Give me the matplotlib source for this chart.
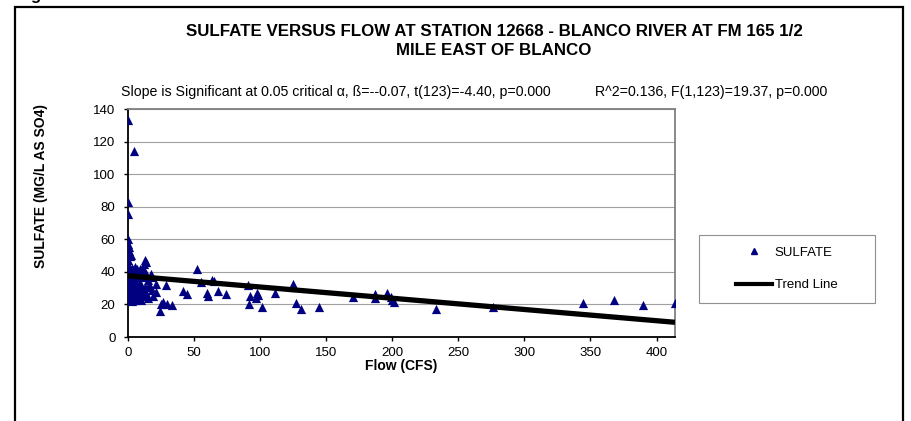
import numpy as np
import matplotlib
matplotlib.use('Agg')
from matplotlib import pyplot as plt
from matplotlib.patches import Rectangle
from matplotlib.lines import Line2D

plt.rcParams['font.family'] = ['Liberation Sans', 'DejaVu Sans']

# flow (cfs) and sulfate (mg/l)
flow = [
    # column near zero flow
    0, 4.5, 0, 0, 0, 0.3, 0.5, 1, 0.2, 1.5, 0.3, 2.5,
    # dense cluster
    0, 0, 0, 0, 0, 0, 0, 0, 0, 0,
    1, 1, 1, 1, 1, 1,
    2, 2, 2, 2, 2,
    3, 3, 3, 3, 3,
    4, 4, 4,
    5, 5, 5, 5, 5,
    6, 6, 6,
    7, 7, 7, 7,
    8, 8, 8,
    9, 9, 9,
    10, 10, 10,
    11, 11,
    12, 12,
    13, 13,
    14, 14,
    15, 15,
    16,
    18, 18,
    # rest
    12.6, 13.4, 11.8, 17.7,
    21, 21.5, 19, 16.4,
    28.5, 25.3, 26.8, 24, 29.8, 33.6,
    41.9, 44.9,
    52, 55, 59.6, 60.2, 63.9, 65, 68, 74.2,
    91.2, 92, 91.9, 97.5, 97, 98.3, 101.3, 111, 125, 126, 127.3, 131,
    144.2, 170, 187, 187, 196, 199, 199.7, 201.5, 233, 276, 344, 368, 390, 414,
]
sulfate = [
    133, 114, 83, 75.5, 60, 57, 55, 53, 51, 49.5, 47, 50.5,
    44, 42, 40, 38, 36, 32, 30, 28, 24, 22.5,
    43, 39, 35, 31, 27, 24,
    41, 37, 33, 29, 25.5,
    42.5, 38, 34, 30, 22,
    40, 36, 27,
    43, 39.5, 35, 30.5, 22.5,
    41, 37, 28,
    42, 38, 31, 25,
    40, 29, 23.5,
    41.5, 33, 26.5,
    39, 30, 22.5,
    41, 28,
    37, 25,
    40, 30.5,
    38.5, 27,
    35, 24,
    32,
    29, 37,
    47.5, 46, 44.8, 38.7,
    32.5, 27.4, 25.3, 30.5,
    31.9, 20.5, 21.4, 15.8, 20.2, 19.6,
    28.0, 26.2,
    42, 33.6, 26.8, 25.2, 35.2, 34.4, 28, 26.2,
    31.9, 25.2, 20, 26.8, 24, 25.5, 18.3, 27.2, 32.3, 31, 21, 17.3,
    18.5, 24.3, 26.3, 23.7, 27.1, 24.5, 22.6, 21.4, 17.1, 18.5, 21, 22.6, 19.6, 20.6,
]

trend_intercept = 37.6
trend_slope = -0.0690

x_ticks = [0, 50, 100, 150, 200, 250, 300, 350, 400]
y_ticks = [0, 20, 40, 60, 80, 100, 120, 140]

title = ('SULFATE VERSUS FLOW AT STATION 12668 - BLANCO RIVER AT FM 165 1/2\n'
         'MILE EAST OF BLANCO')
note_left = 'Slope is Significant at 0.05 critical α, ß=--0.07, t(123)=-4.40, p=0.000'
note_right = 'R^2=0.136, F(1,123)=19.37, p=0.000'

W, H = 911, 421
fig = plt.figure(figsize=(W / 100, H / 100), dpi=100)
ax = fig.add_axes([128 / W, 1 - 337 / H, 547 / W, 228 / H])

ax.scatter(flow, sulfate, marker='^', s=44, color='#000080', linewidths=0, zorder=3)
tx = np.array([0, 414])
ax.plot(tx, trend_intercept + trend_slope * tx, color='black', lw=3.8,
        solid_capstyle='butt', zorder=4)

ax.set_xlim(0, 414)
ax.set_ylim(0, 140)
ax.set_xticks(x_ticks)
ax.set_yticks(y_ticks)
ax.tick_params(labelsize=9.5, length=3, width=1, direction='out', color='black')
ax.tick_params(axis='y', pad=6)
ax.tick_params(axis='x', pad=4.5)
ax.yaxis.grid(True, color='#a0a0a0', lw=0.8)
ax.set_axisbelow(True)
for s in ['left', 'bottom']:
    ax.spines[s].set_color('black')
    ax.spines[s].set_linewidth(1.3)
for s in ['top', 'right']:
    ax.spines[s].set_color('#808080')
    ax.spines[s].set_linewidth(1.3)

ax.set_xlabel('Flow (CFS)', fontsize=10, fontweight='bold', labelpad=0)
ax.set_ylabel('SULFATE (MG/L AS SO4)', fontsize=10, fontweight='bold')
ax.yaxis.set_label_coords((48 - 128) / 547, (337 - 186) / 228)

fig.text(494 / W, 1 - 41 / H, title, ha='center', va='center', fontsize=12.2,
         fontweight='bold', linespacing=1.3)
fig.text(121 / W, 1 - 92 / H, note_left, ha='left', va='center', fontsize=10.2)
fig.text(595 / W, 1 - 92 / H, note_right, ha='left', va='center', fontsize=10.2)

# legend box
fig.patches.append(Rectangle((699 / W, 1 - 303 / H), 176 / W, 68 / H,
                             transform=fig.transFigure, fill=False,
                             edgecolor='#909090', lw=0.8))
handles = [Line2D([], [], ls='none', marker='^', ms=5, color='#000080'),
           Line2D([], [], color='black', lw=3)]
fig.legend(handles, ['SULFATE', 'Trend Line'], loc='center',
           bbox_to_anchor=(787 / W, 1 - 269 / H), frameon=False, fontsize=9.5,
           handlelength=2.7, handletextpad=0.2, labelspacing=1.5)

# outer frame
fig.patches.append(Rectangle((15 / W, -0.05), 888 / W, 1.05 - 7 / H,
                             transform=fig.transFigure, fill=False,
                             edgecolor='black', lw=1.6))
fig.text(30 / W, 1.0, 'g', fontsize=12, fontweight='bold', va='baseline')

fig.savefig('out.png', dpi=100)
